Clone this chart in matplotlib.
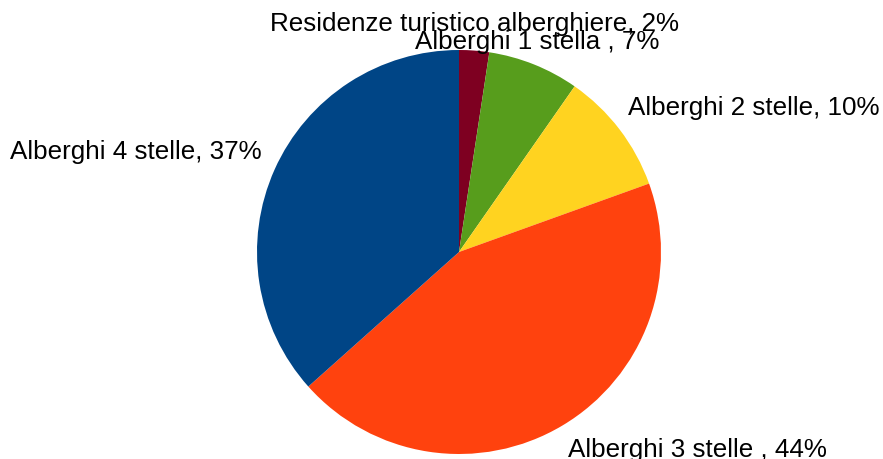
import matplotlib
matplotlib.use("Agg")
import matplotlib.pyplot as plt

categories = ["Residenze turistico alberghiere", "Alberghi 1 stella ", "Alberghi 2 stelle",
              "Alberghi 3 stelle ", "Alberghi 4 stelle"]
values = [2.4, 7.3, 9.8, 43.9, 36.6]
colors = ["#7E0021", "#579D1C", "#FFD320", "#FF420E", "#004586"]

W, H = 883, 459
fig = plt.figure(figsize=(W / 100, H / 100), dpi=100)
cx, cy, r = 459, 252, 202
ax = fig.add_axes([(cx - r) / W, (H - cy - r) / H, 2 * r / W, 2 * r / H])
ax.pie(values, colors=colors, startangle=90, counterclock=False, radius=1,
       wedgeprops=dict(linewidth=0))
ax.set_xlim(-1, 1)
ax.set_ylim(-1, 1)
ax.axis("off")

total = sum(values)
# label positions in pixels (left x, center y)
label_pos = [(270, 24), (415, 42), (628, 108), (568, 450), (10, 152)]
for cat, v, (lx, ly) in zip(categories, values, label_pos):
    fig.text(lx / W, 1 - ly / H, f"{cat}, {round(100 * v / total)}%", ha="left", va="center",
             fontsize=18.7, family="Liberation Sans", color="black")

fig.savefig("out.png", dpi=100)
